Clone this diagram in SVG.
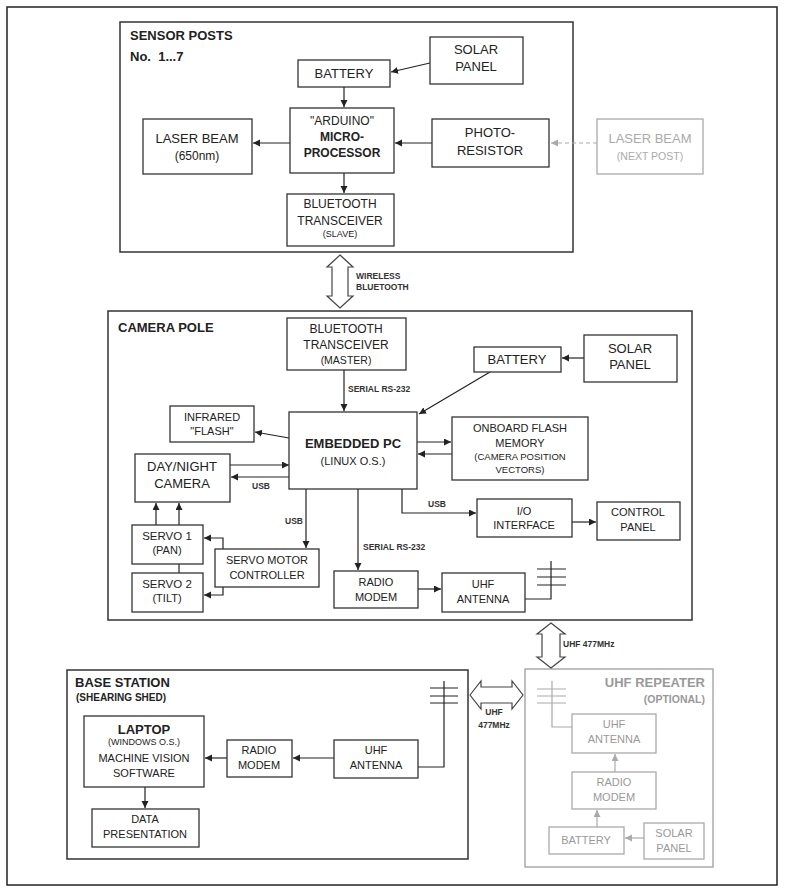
<svg xmlns="http://www.w3.org/2000/svg" width="785" height="893" viewBox="0 0 785 893">
<defs>
<marker id="ah" markerUnits="userSpaceOnUse" markerWidth="8" markerHeight="8" refX="7" refY="3.5" orient="auto"><path d="M0,0 L7,3.5 L0,7 z" fill="#222"/></marker>
<marker id="ahg" markerUnits="userSpaceOnUse" markerWidth="8" markerHeight="8" refX="7" refY="3.5" orient="auto"><path d="M0,0 L7,3.5 L0,7 z" fill="#aaa"/></marker>
</defs>
<style>
text{font-family:"Liberation Sans",Arial,sans-serif;fill:#222;text-anchor:middle}
.box{fill:#fff;stroke:#333;stroke-width:1.3}
.cont{fill:none;stroke:#333;stroke-width:1.5}
.gbox{fill:#fff;stroke:#aaa;stroke-width:1.3}
.gcont{fill:none;stroke:#aaa;stroke-width:1.5}
.t13{font-size:13px}.t12{font-size:12px}.t11{font-size:11px}.t9{font-size:9px}
.b{font-weight:bold}
.title{font-size:13px;font-weight:bold;text-anchor:start}
.lbl{font-size:8.5px;font-weight:bold;text-anchor:start;fill:#333}
.g{fill:#999}
.c{fill:none;stroke:#222;stroke-width:1.2}
.cg{fill:none;stroke:#aaa;stroke-width:1.2}
.dbl{fill:#fff;stroke:#444;stroke-width:1.2}
</style>
<rect x="0" y="0" width="785" height="893" fill="#fff"/>
<rect x="7" y="7" width="770" height="878" fill="none" stroke="#222" stroke-width="1.5"/>

<g id="containers">
<rect class="cont" x="120" y="22" width="453" height="230"/>
<text class="title" x="130" y="40">SENSOR POSTS</text>
<text class="title" x="130" y="61">No.&#160; 1...7</text>
<rect class="cont" x="108" y="311" width="584" height="309"/>
<text class="title" x="118" y="332">CAMERA POLE</text>
<rect class="cont" x="67" y="670" width="401" height="189"/>
<text class="title" x="75" y="687">BASE STATION</text>
<text class="title" style="font-size:10px" x="76" y="701">(SHEARING SHED)</text>
<rect class="gcont" x="525" y="669" width="188" height="198"/>
<text class="title g" style="text-anchor:end" x="705" y="687">UHF REPEATER</text>
<text class="title g" style="text-anchor:end;font-size:10.5px" x="705" y="703">(OPTIONAL)</text>
</g>

<g id="connectors">
<line class="c" x1="430" y1="63" x2="391" y2="72" marker-end="url(#ah)"/>
<line class="c" x1="344" y1="87" x2="344" y2="107" marker-end="url(#ah)"/>
<line class="c" x1="290" y1="143" x2="253" y2="143" marker-end="url(#ah)"/>
<line class="c" x1="432" y1="143" x2="395" y2="143" marker-end="url(#ah)"/>
<line class="c" x1="344" y1="173" x2="344" y2="193" marker-end="url(#ah)"/>
<line class="cg" x1="597" y1="143" x2="551" y2="143" stroke-dasharray="4,3" marker-end="url(#ahg)"/>

<line class="c" x1="344" y1="370" x2="344" y2="411" marker-end="url(#ah)"/>
<line class="c" x1="490" y1="372" x2="419" y2="414" marker-end="url(#ah)"/>
<line class="c" x1="584" y1="358" x2="562" y2="358" marker-end="url(#ah)"/>
<line class="c" x1="289" y1="438" x2="255" y2="432" marker-end="url(#ah)"/>
<line class="c" x1="417" y1="442" x2="451" y2="442" marker-end="url(#ah)"/>
<line class="c" x1="452" y1="454" x2="418" y2="454" marker-end="url(#ah)"/>
<line class="c" x1="230" y1="465" x2="289" y2="465" marker-end="url(#ah)"/>
<line class="c" x1="290" y1="477" x2="231" y2="477" marker-end="url(#ah)"/>
<line class="c" x1="156" y1="525" x2="156" y2="503" marker-end="url(#ah)"/>
<line class="c" x1="179" y1="525" x2="179" y2="503" marker-end="url(#ah)"/>
<line class="c" x1="179" y1="564" x2="179" y2="573"/>
<polyline class="c" points="223,549 223,538 204,538" marker-end="url(#ah)"/>
<polyline class="c" points="223,587 223,595 204,595" marker-end="url(#ah)"/>
<line class="c" x1="306" y1="489" x2="306" y2="548" marker-end="url(#ah)"/>
<line class="c" x1="358" y1="489" x2="358" y2="570" marker-end="url(#ah)"/>
<polyline class="c" points="402,489 402,513 476,513" marker-end="url(#ah)"/>
<line class="c" x1="572" y1="522" x2="596" y2="522" marker-end="url(#ah)"/>
<line class="c" x1="418" y1="589" x2="441" y2="589" marker-end="url(#ah)"/>
<polyline class="c" points="525,599 551,599 551,561"/>
<path class="c" d="M537,569 H566 M537,577 H566 M537,585 H566"/>

<polyline class="c" points="418,767 444,767 444,681"/>
<path class="c" d="M430,688 H458 M430,696 H458 M430,703 H458"/>
<line class="c" x1="334" y1="758" x2="293" y2="758" marker-end="url(#ah)"/>
<line class="c" x1="227" y1="758" x2="205" y2="758" marker-end="url(#ah)"/>
<line class="c" x1="145" y1="787" x2="145" y2="808" marker-end="url(#ah)"/>

<polyline class="cg" points="572,727 552,727 552,681"/>
<path class="cg" d="M537,689 H566 M537,696 H566 M537,703 H566"/>
<line class="cg" x1="615" y1="772" x2="615" y2="754" marker-end="url(#ahg)"/>
<line class="cg" x1="597" y1="827" x2="597" y2="810" marker-end="url(#ahg)"/>
<line class="cg" x1="644" y1="838" x2="625" y2="838" marker-end="url(#ahg)"/>

<polygon class="dbl" points="340,255 353,267 348,267 348,296 353,296 340,308 327,296 332,296 332,267 327,267"/>
<text class="lbl" x="356" y="279">WIRELESS</text>
<text class="lbl" x="356" y="290">BLUETOOTH</text>
<polygon class="dbl" points="551,623 565,634 560,634 560,657 565,657 551,668 537,657 542,657 542,634 537,634"/>
<text class="lbl" x="563" y="647">UHF 477MHz</text>
<polygon class="dbl" points="470,695 481,681 481,687 512,687 512,681 523,695 512,709 512,703 481,703 481,709"/>
<text class="lbl" style="text-anchor:middle" x="494" y="715">UHF</text>
<text class="lbl" style="text-anchor:middle" x="494" y="728">477MHz</text>
<text class="lbl" x="348" y="392">SERIAL RS-232</text>
<text class="lbl" x="252" y="489">USB</text>
<text class="lbl" x="285" y="524">USB</text>
<text class="lbl" x="363" y="550">SERIAL RS-232</text>
<text class="lbl" x="428" y="507">USB</text>
</g>

<g id="sp-solar"><rect class="box" x="430" y="37" width="93" height="47"/><text class="t13" x="476" y="54">SOLAR</text><text class="t13" x="476" y="71">PANEL</text></g>
<g id="sp-battery"><rect class="box" x="298" y="60" width="92" height="27"/><text class="t13" x="344" y="78">BATTERY</text></g>
<g id="sp-micro"><rect class="box" x="290" y="108" width="104" height="65"/><text class="t12" x="342" y="125">"ARDUINO"</text><text class="t12 b" x="342" y="141">MICRO-</text><text class="t12 b" x="342" y="157">PROCESSOR</text></g>
<g id="sp-laser"><rect class="box" x="143" y="119" width="109" height="55"/><text class="t13" x="197" y="143">LASER BEAM</text><text class="t12" x="197" y="160">(650nm)</text></g>
<g id="sp-photo"><rect class="box" x="432" y="119" width="117" height="48"/><text class="t13" x="490" y="137">PHOTO-</text><text class="t13" x="490" y="155">RESISTOR</text></g>
<g id="sp-next"><rect class="gbox" x="597" y="119" width="106" height="55"/><text class="t13" style="fill:#aaa" x="650" y="143">LASER BEAM</text><text style="fill:#aaa;font-size:10.5px" x="650" y="160">(NEXT POST)</text></g>
<g id="sp-bt"><rect class="box" x="287" y="194" width="107" height="52"/><text class="t12" x="340" y="208">BLUETOOTH</text><text class="t12" x="340" y="225">TRANSCEIVER</text><text class="t9" x="340" y="237">(SLAVE)</text></g>

<g id="cp-bt"><rect class="box" x="287" y="318" width="119" height="52"/><text class="t12" x="346" y="333">BLUETOOTH</text><text class="t12" x="346" y="349">TRANSCEIVER</text><text style="font-size:10.5px" x="346" y="364">(MASTER)</text></g>
<g id="cp-battery"><rect class="box" x="474" y="347" width="87" height="25"/><text class="t13" x="517" y="364">BATTERY</text></g>
<g id="cp-solar"><rect class="box" x="584" y="335" width="93" height="47"/><text class="t13" x="630" y="353">SOLAR</text><text class="t13" x="630" y="369">PANEL</text></g>
<g id="cp-infrared"><rect class="box" x="170" y="406" width="84" height="36"/><text class="t11" x="212" y="421">INFRARED</text><text class="t11" x="212" y="435">"FLASH"</text></g>
<g id="cp-pc"><rect class="box" x="289" y="412" width="128" height="77"/><text class="b" style="font-size:13px" x="353" y="448">EMBEDDED PC</text><text class="t11" x="353" y="465">(LINUX O.S.)</text></g>
<g id="cp-memory"><rect class="box" x="452" y="417" width="136" height="63"/><text class="t11" x="520" y="432">ONBOARD FLASH</text><text class="t11" x="520" y="447">MEMORY</text><text style="font-size:9.5px" x="520" y="460">(CAMERA POSITION</text><text style="font-size:9.5px" x="520" y="473">VECTORS)</text></g>
<g id="cp-camera"><rect class="box" x="135" y="454" width="95" height="48"/><text class="t13" x="182" y="471">DAY/NIGHT</text><text class="t13" x="182" y="488">CAMERA</text></g>
<g id="cp-io"><rect class="box" x="477" y="499" width="95" height="38"/><text class="t11" x="524" y="515">I/O</text><text class="t11" x="524" y="529">INTERFACE</text></g>
<g id="cp-control"><rect class="box" x="597" y="502" width="83" height="38"/><text class="t11" x="638" y="516">CONTROL</text><text class="t11" x="638" y="531">PANEL</text></g>
<g id="cp-servo1"><rect class="box" x="132" y="525" width="71" height="39"/><text style="font-size:11.5px" x="167" y="540">SERVO 1</text><text class="t11" x="167" y="554">(PAN)</text></g>
<g id="cp-servo2"><rect class="box" x="132" y="573" width="71" height="39"/><text style="font-size:11.5px" x="167" y="588">SERVO 2</text><text class="t11" x="167" y="602">(TILT)</text></g>
<g id="cp-servoctl"><rect class="box" x="215" y="549" width="104" height="38"/><text class="t11" x="267" y="564">SERVO MOTOR</text><text class="t11" x="267" y="579">CONTROLLER</text></g>
<g id="cp-radio"><rect class="box" x="334" y="571" width="84" height="37"/><text class="t11" x="376" y="586">RADIO</text><text class="t11" x="376" y="601">MODEM</text></g>
<g id="cp-uhf"><rect class="box" x="442" y="573" width="83" height="39"/><text class="t11" x="483" y="588">UHF</text><text class="t11" x="483" y="603">ANTENNA</text></g>

<g id="bs-laptop"><rect class="box" x="84" y="716" width="120" height="71"/><text class="b" style="font-size:13px" x="144" y="734">LAPTOP</text><text class="t9" x="144" y="745">(WINDOWS O.S.)</text><text class="t11" x="144" y="762">MACHINE VISION</text><text class="t11" x="144" y="777">SOFTWARE</text></g>
<g id="bs-data"><rect class="box" x="92" y="809" width="107" height="38"/><text class="t11" x="145" y="823">DATA</text><text class="t11" x="145" y="838">PRESENTATION</text></g>
<g id="bs-radio"><rect class="box" x="227" y="740" width="65" height="37"/><text class="t11" x="259" y="754">RADIO</text><text class="t11" x="259" y="769">MODEM</text></g>
<g id="bs-uhf"><rect class="box" x="334" y="740" width="84" height="38"/><text class="t11" x="376" y="754">UHF</text><text class="t11" x="376" y="769">ANTENNA</text></g>

<g id="rp-uhf"><rect class="gbox" x="572" y="714" width="84" height="39"/><text class="t11 g" x="614" y="728">UHF</text><text class="t11 g" x="614" y="743">ANTENNA</text></g>
<g id="rp-radio"><rect class="gbox" x="572" y="772" width="84" height="37"/><text class="t11 g" x="614" y="786">RADIO</text><text class="t11 g" x="614" y="801">MODEM</text></g>
<g id="rp-battery"><rect class="gbox" x="549" y="827" width="75" height="27"/><text class="t11 g" x="586" y="844">BATTERY</text></g>
<g id="rp-solar"><rect class="gbox" x="644" y="823" width="60" height="36"/><text class="t11 g" x="674" y="837">SOLAR</text><text class="t11 g" x="674" y="852">PANEL</text></g>
</svg>
